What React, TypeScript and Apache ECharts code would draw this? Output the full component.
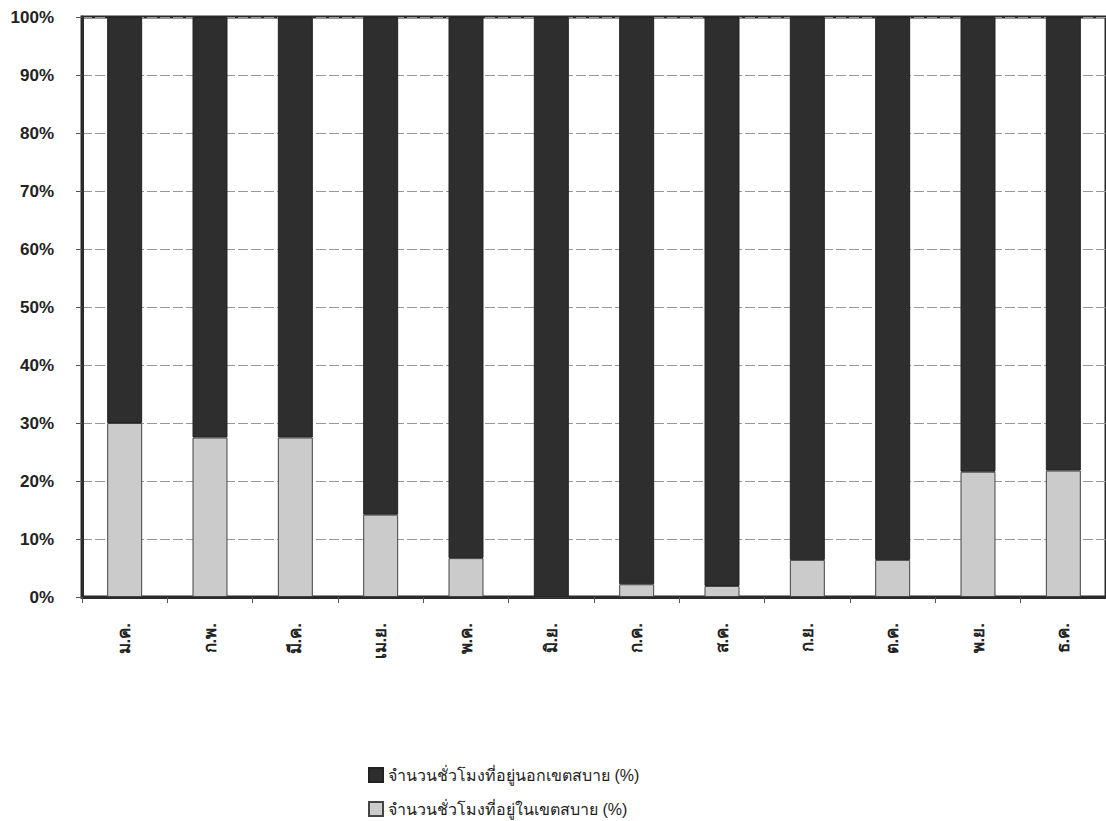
import React, { useEffect, useRef } from "react";
import * as echarts from "echarts";

const months = ["ม.ค.", "ก.พ.", "มี.ค.", "เม.ย.", "พ.ค.", "มิ.ย.", "ก.ค.", "ส.ค.", "ก.ย.", "ต.ค.", "พ.ย.", "ธ.ค."];
const inComfort = [30, 27.5, 27.5, 14.2, 6.7, 0, 2.2, 1.9, 6.4, 6.4, 21.6, 21.8];
const outComfort = inComfort.map((v) => Math.round((100 - v) * 10) / 10);
const outName = "จำนวนชั่วโมงที่อยู่นอกเขตสบาย (%)";
const inName = "จำนวนชั่วโมงที่อยู่ในเขตสบาย (%)";
const yTicks = [0, 10, 20, 30, 40, 50, 60, 70, 80, 90, 100];

const FONT = "'Liberation Sans', Arial, 'Noto Sans', sans-serif";

const legendBase = {
  orient: "vertical",
  left: 366,
  padding: 2,
  itemWidth: 14,
  itemHeight: 14,
  icon: "rect",
  textStyle: { fontSize: 16, color: "#222", fontFamily: FONT },
};

export default function App() {
  const ref = useRef<HTMLDivElement>(null);
  useEffect(() => {
    const chart = echarts.init(ref.current!, null, { renderer: "svg" });
    chart.setOption({
      animation: false,
      backgroundColor: "#ffffff",
      textStyle: { fontFamily: FONT },
      grid: {
        left: 82,
        right: -6,
        top: 17,
        height: 580,
        show: true,
        borderColor: "#2a2a2a",
        borderWidth: 3,
        backgroundColor: "transparent",
      },
      legend: [
        { ...legendBase, top: 765, data: [outName] },
        { ...legendBase, top: 799, data: [inName] },
      ],
      xAxis: {
        type: "category",
        data: months,
        axisLine: { show: true, lineStyle: { color: "#2a2a2a", width: 3 } },
        axisTick: { show: true, alignWithLabel: false, length: 6, lineStyle: { color: "#555", width: 1 } },
        axisLabel: {
          rotate: 90,
          margin: 26,
          fontSize: 17,
          fontWeight: "bold",
          color: "#222",
          fontFamily: FONT,
        },
        splitLine: { show: false },
      },
      yAxis: {
        type: "value",
        min: 0,
        max: 100,
        interval: 10,
        axisLine: { show: true, lineStyle: { color: "#2a2a2a", width: 3 } },
        axisTick: { show: true, length: 6, lineStyle: { color: "#555" } },
        axisLabel: {
          formatter: (v: number) => (yTicks.includes(v) ? v + "%" : ""),
          fontSize: 17,
          fontWeight: "bold",
          color: "#222",
          margin: 28,
          fontFamily: FONT,
        },
        splitLine: { show: true, lineStyle: { color: "#999", width: 1, type: [10, 3] } },
      },
      series: [
        {
          name: inName,
          type: "bar",
          stack: "total",
          data: inComfort,
          barWidth: "41%",
          itemStyle: { color: "#cbcbcb", borderColor: "#444", borderWidth: 1 },
        },
        {
          name: outName,
          type: "bar",
          stack: "total",
          data: outComfort,
          barWidth: "41%",
          itemStyle: { color: "#2e2e2e", borderColor: "#222", borderWidth: 1 },
        },
      ],
    });
    return () => chart.dispose();
  }, []);
  return (
    <div
      ref={ref}
      style={{ position: "fixed", left: 0, top: 0, width: 1106, height: 821 }}
    />
  );
}
